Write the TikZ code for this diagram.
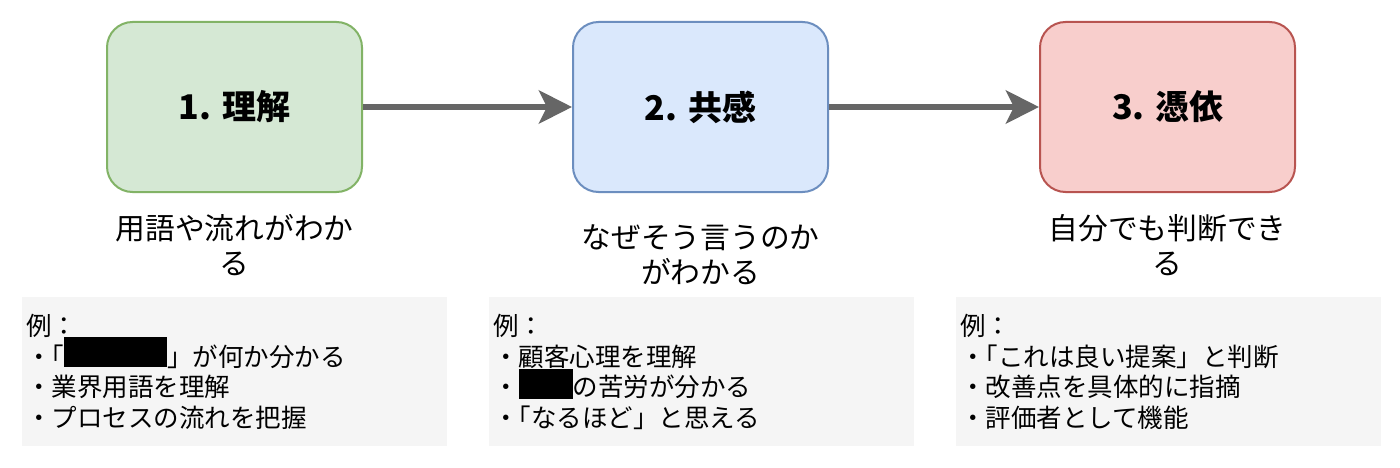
\documentclass[tikz,border=0pt]{standalone}
\usepackage{fontspec}
\setmainfont{Noto Sans CJK JP}
\newfontfamily\jphalt[RawFeature=+halt]{Noto Sans CJK JP}
\usetikzlibrary{arrows.meta}
\definecolor{gfill}{HTML}{D5E8D4}
\definecolor{gline}{HTML}{82B366}
\definecolor{bfill}{HTML}{DAE8FC}
\definecolor{bline}{HTML}{6C8EBF}
\definecolor{rfill}{HTML}{F8CECC}
\definecolor{rline}{HTML}{B85450}
\definecolor{exfill}{HTML}{F5F5F5}
\definecolor{arrgray}{HTML}{666666}
\begin{document}
\begin{tikzpicture}[x=1pt,y=-1pt,
  stage/.style={rectangle, rounded corners=25.5pt, minimum width=255pt, minimum height=170pt,
    line width=2pt, inner sep=0pt, font=\fontsize{34}{40}\selectfont\bfseries},
  lbl/.style={anchor=base, inner sep=0pt, font=\fontsize{29.75}{35.7}\selectfont},
  exbox/.style={rectangle, fill=exfill, minimum width=425pt, minimum height=149pt, inner sep=0pt},
  exline/.style={anchor=base west, inner sep=0pt, font=\fontsize{25.5}{30.6}\selectfont},
  flow/.style={draw=arrgray, line width=6pt, -{Stealth[length=33pt,width=33pt,inset=8pt]}}]
\fill[white] (0,0) rectangle (1400,468);
\useasboundingbox (0,0) rectangle (1400,468);

% stage boxes
\node[stage, fill=gfill, draw=gline] (b1) at (234.5,107) {1. 理解};
\node[stage, fill=bfill, draw=bline] (b2) at (700.5,107) {2. 共感};
\node[stage, fill=rfill, draw=rline] (b3) at (1167.5,107) {3. 憑依};

% arrows
\draw[flow] (b1) -- (b2);
\draw[flow] (b2) -- (b3);

% labels
\node[lbl] (l1a) at (234.5,239) {用語や流れがわか};
\node[lbl] (l1b) at (234.5,274.7) {る};
\node[lbl] (l2a) at (700.5,248) {なぜそう言うのか};
\node[lbl] (l2b) at (700.5,283.7) {がわかる};
\node[lbl] (l3a) at (1167.5,239) {自分でも判断でき};
\node[lbl] (l3b) at (1167.5,274.7) {る};

% example boxes
\node[exbox] (e1) at (234.5,371.5) {};
\node[exbox] (e2) at (701,371.5) {};
\node[exbox] (e3) at (1168,371.5) {};

\node[exline] (e1a) at (26,335.5) {例：};
\node[exline] (e1b) at (26,366.1) {・{\jphalt 「}\rule[-1pt]{103pt}{30pt}」が何か分かる};
\node[exline] (e1c) at (26,396.7) {・業界用語を理解};
\node[exline] (e1d) at (26,427.3) {・プロセスの流れを把握};

\node[exline] (e2a) at (493,335.5) {例：};
\node[exline] (e2b) at (493,366.1) {・顧客心理を理解};
\node[exline] (e2c) at (493,396.7) {・\rule[-2.3pt]{54pt}{30pt}の苦労が分かる};
\node[exline] (e2d) at (493,427.3) {・{\jphalt 「}なるほど」と思える};

\node[exline] (e3a) at (960,335.5) {例：};
\node[exline] (e3b) at (960,366.1) {・{\jphalt 「}これは良い提案」と判断};
\node[exline] (e3c) at (960,396.7) {・改善点を具体的に指摘};
\node[exline] (e3d) at (960,427.3) {・評価者として機能};
\end{tikzpicture}
\end{document}
